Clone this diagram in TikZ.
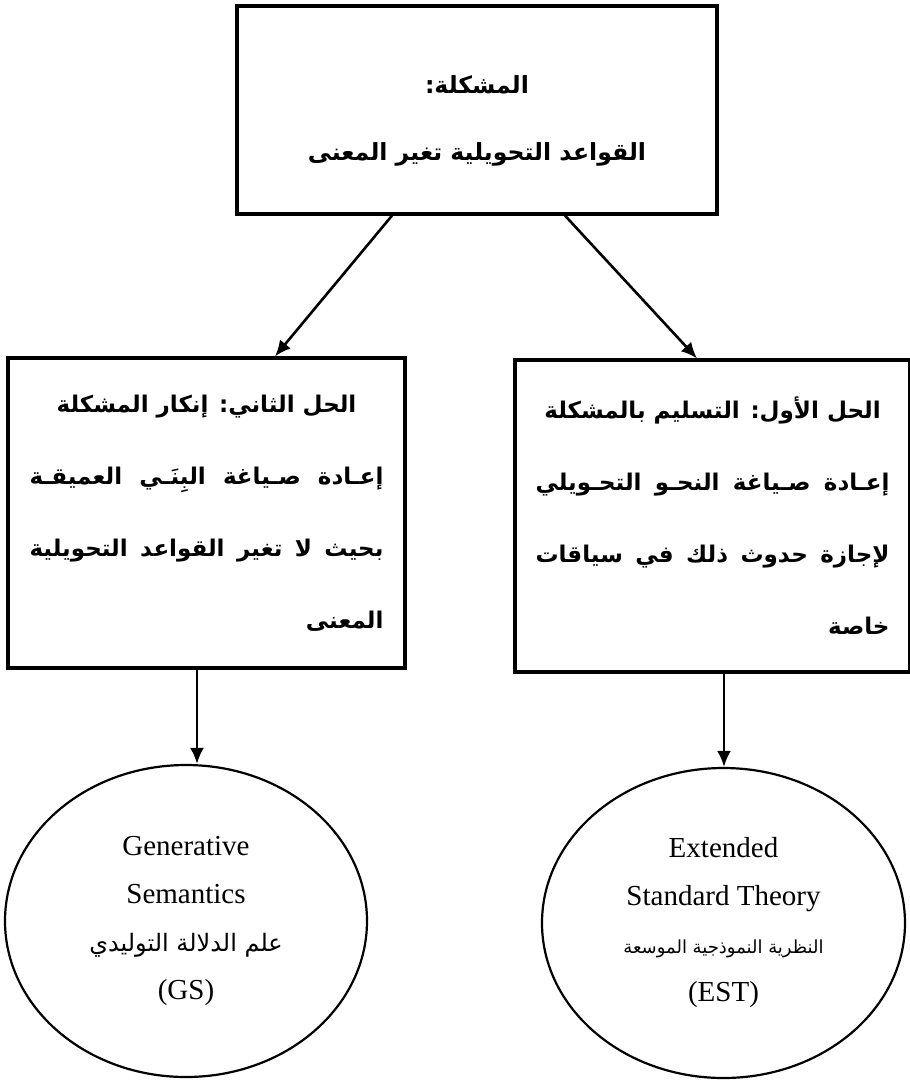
\documentclass[tikz,border=0pt]{standalone}
\usepackage{fontspec}
\setmainfont{Liberation Serif}
\newfontfamily\arabicfont[Script=Arabic]{DejaVu Sans}
\TeXXeTstate=1
\usetikzlibrary{shapes.geometric,arrows.meta,calc}
\newcommand{\artxt}[1]{{\arabicfont\beginR #1\endR}}
\newcommand{\fullline}[1]{\makebox[177pt][s]{\arabicfont\beginR #1\endR}}
\newcommand{\lastline}[1]{\makebox[177pt][r]{\arabicfont\beginR #1\endR}}
\tikzset{
  box/.style={draw, line width=1.6pt, rectangle, inner sep=0pt, align=center,
    font=\arabicfont\bfseries\fontsize{11.5}{36}\selectfont},
  boxtext/.style={inner sep=0pt, align=center,
    font=\arabicfont\bfseries\fontsize{11.8}{33.5}\selectfont},
  theory/.style={draw, ellipse, line width=1.1pt, inner sep=0pt, align=center,
    font=\fontsize{14.5}{24}\selectfont},
  arr/.style={-{Latex[length=8pt,width=7pt]}, line width=1.3pt}
}
\begin{document}
\begin{tikzpicture}[x=0.5pt, y=-0.5pt]
\useasboundingbox (0,0) rectangle (910,1083);
% problem
\node[box, minimum width=240pt, minimum height=104pt] (prob) at (477,110) {};
\node[boxtext] (probtxt) at ($(prob)+(0,11)$)
  {\artxt{المشكلة:}\\ \artxt{القواعد التحويلية تغير المعنى}};
% the two solutions
\node[box, minimum width=198.5pt, minimum height=155pt] (sol2) at (206.5,513)
  {\artxt{الحل الثاني: إنكار المشكلة}\\
   \fullline{إعـادة صـياغة البِنَـي العميقـة}\\
   \fullline{بحيث لا تغير القواعد التحويلية}\\
   \lastline{المعنى}};
\node[box, minimum width=197.5pt, minimum height=156pt] (sol1) at (712.5,516)
  {\artxt{الحل الأول: التسليم بالمشكلة}\\
   \fullline{إعـادة صـياغة النحـو التحـويلي}\\
   \fullline{لإجازة حدوث ذلك في سياقات}\\
   \lastline{خاصة}};
% theories
\node[theory, minimum width=181pt, minimum height=156pt] (gs) at (186,921)
  {Generative\\ Semantics\\ {\fontsize{12}{24}\selectfont\artxt{علم الدلالة التوليدي}}\\ (GS)};
\node[theory, minimum width=181.5pt, minimum height=155pt] (est) at (723.5,923)
  {Extended\\ Standard Theory\\ {\fontsize{9}{24}\selectfont\artxt{النظرية النموذجية الموسعة}}\\ (EST)};
% arrows
\draw[arr] ($(prob.south)+(-85,0)$) -- ($(sol2.north)+(68.5,0)$);
\draw[arr] ($(prob.south)+(88,0)$) -- ($(sol1.north)+(-15.5,0)$);
\coordinate (d2) at ($(sol2.south)+(-9.5,0)$);
\coordinate (d1) at ($(sol1.south)+(11.5,0)$);
\draw[arr] (d2) -- (d2 |- gs.north);
\draw[arr] (d1) -- (d1 |- est.north);
\end{tikzpicture}
\end{document}
